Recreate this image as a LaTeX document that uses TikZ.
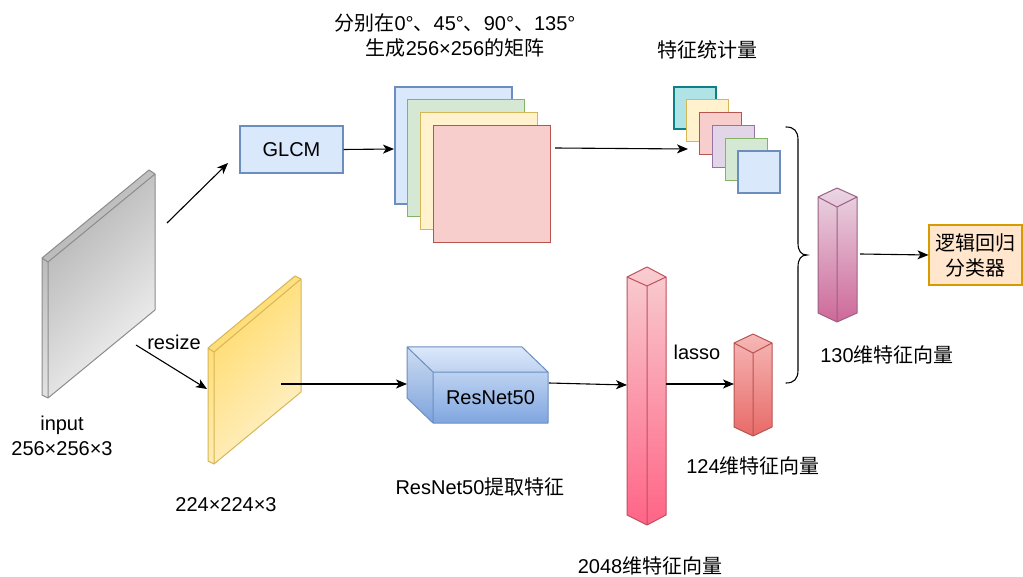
\documentclass[tikz,border=0pt]{standalone}
\usepackage{fontspec}
\setmainfont{Liberation Sans}
\newfontfamily\cjk{Noto Sans CJK SC}
\usetikzlibrary{arrows.meta}
\definecolor{bluF}{HTML}{DAE8FC}\definecolor{bluD}{HTML}{6C8EBF}
\definecolor{grnF}{HTML}{D5E8D4}\definecolor{grnD}{HTML}{82B366}
\definecolor{yelF}{HTML}{FFF2CC}\definecolor{yelD}{HTML}{D6B656}
\definecolor{redF}{HTML}{F8CECC}\definecolor{redD}{HTML}{B85450}
\definecolor{purF}{HTML}{E1D5E7}\definecolor{purD}{HTML}{9673A6}
\definecolor{tealF}{HTML}{B0E3E6}\definecolor{tealD}{HTML}{0E8088}
\definecolor{orgF}{HTML}{FFE6CC}\definecolor{orgD}{HTML}{D79B00}
\definecolor{grayA}{HTML}{B0B0B0}\definecolor{grayB}{HTML}{F4F4F4}\definecolor{grayD}{HTML}{8C8C8C}
\definecolor{goldA}{HTML}{FFD966}
\definecolor{cubeA}{HTML}{DCE8FA}\definecolor{cubeB}{HTML}{7FA6E0}
\definecolor{tallA}{HTML}{F8CDD0}\definecolor{tallB}{HTML}{FF6486}\definecolor{tallD}{HTML}{C0505E}
\definecolor{smA}{HTML}{F6B8B6}\definecolor{smB}{HTML}{E86A68}
\definecolor{puA}{HTML}{EAD6E4}\definecolor{puB}{HTML}{CE6898}\definecolor{puD}{HTML}{996185}
\begin{document}
\begin{tikzpicture}[x=1pt,y=-1pt,
  font=\fontsize{20}{25}\selectfont,
  arr/.style={-{Stealth[length=11pt,width=9pt,inset=3pt]}, line width=1.1pt},
  lbl/.style={inner sep=0pt, align=center},
  edge/.style={line width=1pt, line join=round}]
\useasboundingbox (0,0) rectangle (1023,577);
\fill[white] (0,0) rectangle (1023,577);

% ---------- input slab (gray)
\shade[top color=grayA, bottom color=grayB, shading angle=45]
  (42,258) -- (149,170) -- (155,174) -- (155,310) -- (48,398) -- (42,395) -- cycle;
\draw[edge, draw=grayD] (42,258) -- (149,170) -- (155,174) -- (155,310) -- (48,398) -- (42,395) -- cycle
  (42,258) -- (48,262) -- (155,174) (48,262) -- (48,398);
\coordinate (inOut) at (167,223);
\coordinate (inRes) at (136,345);
\node[lbl] (inLbl) at (62,436) {input\\256×256×3};

% ---------- resized slab (yellow)
\shade[top color=goldA, bottom color=yelF, shading angle=45]
  (208,348) -- (295,276) -- (301,279) -- (301,392) -- (214,464) -- (208,461) -- cycle;
\draw[edge, draw=yelD] (208,348) -- (295,276) -- (301,279) -- (301,392) -- (214,464) -- (208,461) -- cycle
  (208,348) -- (214,352) -- (301,279) (214,352) -- (214,464);
\coordinate (yIn) at (207,389);
\coordinate (yOut) at (281,384);
\node[lbl] (yLbl) at (226,505) {224×224×3};
\node[lbl] (resize) at (174,342) {resize};

% ---------- GLCM
\node[draw=bluD, fill=bluF, line width=1.1pt, minimum width=103pt, minimum height=47pt, inner sep=0pt] (glcm) at (291.5,149.5) {GLCM};
\coordinate (glIn) at (228,163);

% ---------- stack of 4 matrices
\foreach \f/\d [count=\i from 0] in {bluF/bluD, grnF/grnD, yelF/yelD, redF/redD}
  \draw[fill=\f, draw=\d, line width=1.1pt] ({395+12.7*\i},{87+12.7*\i}) rectangle +(117,117);
\coordinate (stIn) at (394,149);
\coordinate (stOut) at (555,148);
\node[lbl] (topTxt) at (455,35) {{\cjk 分别在}0°{\cjk 、}45°{\cjk 、}90°{\cjk 、}135°\\{\cjk 生成}256×256{\cjk 的矩阵}};

% ---------- statistics squares
\foreach \f/\d [count=\i from 0] in {tealF/tealD, yelF/yelD, redF/redD, purF/purD, grnF/grnD, bluF/bluD}
  \draw[fill=\f, draw=\d, line width=1.1pt] ({674+12.8*\i},{87+12.8*\i}) rectangle +(42,42);
\coordinate (sqIn) at (688,149);
\node[lbl] (sqLbl) at (707,50) {\cjk 特征统计量};

% ---------- ResNet50 cube
\shade[top color=cubeA, bottom color=cubeB]
  (407,347) -- (522,347) -- (548,372) -- (548,423) -- (433,423) -- (407,398) -- cycle;
\fill[bluD, opacity=0.12] (407,347) -- (433,372) -- (433,423) -- (407,398) -- cycle;
\draw[edge, draw=bluD] (407,347) -- (522,347) -- (548,372) -- (548,423) -- (433,423) -- (407,398) -- cycle
  (407,347) -- (433,372) -- (548,372) (433,372) -- (433,423);
\node[lbl] (resnet) at (490.5,398) {ResNet50};
\coordinate (rnIn) at (407,384);
\coordinate (rnOut) at (549,383);
\node[lbl] (rnLbl) at (480,487) {ResNet50{\cjk 提取特征}};

% ---------- tall bar 2048
\shade[top color=tallA, bottom color=tallB]
  (647,267) -- (666,277) -- (666,515) -- (647,525) -- (627,515) -- (627,277) -- cycle;
\draw[edge, draw=tallD] (647,267) -- (666,277) -- (666,515) -- (647,525) -- (627,515) -- (627,277) -- cycle
  (627,277) -- (647,286) -- (666,277) (647,286) -- (647,525);
\coordinate (tbIn) at (627,385);
\coordinate (tbOut) at (666,384);
\node[lbl] (tbLbl) at (650,566) {2048{\cjk 维特征向量}};
\node[lbl] (lasso) at (697,352) {lasso};

% ---------- small bar 124
\shade[top color=smA, bottom color=smB]
  (753,334) -- (772,343) -- (772,427) -- (753,436) -- (734,427) -- (734,343) -- cycle;
\draw[edge, draw=redD] (753,334) -- (772,343) -- (772,427) -- (753,436) -- (734,427) -- (734,343) -- cycle
  (734,343) -- (753,353) -- (772,343) (753,353) -- (753,436);
\coordinate (sbIn) at (734,384);
\node[lbl] (sbLbl) at (753,466) {124{\cjk 维特征向量}};

% ---------- brace
\draw[line width=1.1pt, line cap=round]
  (786,127) .. controls (794,127) and (798,131) .. (798,140) -- (798,243)
  .. controls (798,251) and (801,255) .. (807,255)
  .. controls (801,255) and (798,259) .. (798,267) -- (798,370)
  .. controls (798,379) and (794,383) .. (786,383);

% ---------- purple bar 130
\shade[top color=puA, bottom color=puB]
  (837,188) -- (857,197) -- (857,313) -- (837,322) -- (818,313) -- (818,197) -- cycle;
\draw[edge, draw=puD] (837,188) -- (857,197) -- (857,313) -- (837,322) -- (818,313) -- (818,197) -- cycle
  (818,197) -- (837,207) -- (857,197) (837,207) -- (837,322);
\coordinate (pbOut) at (860,254);
\node[lbl] (pbLbl) at (887,355) {130{\cjk 维特征向量}};

% ---------- classifier
\node[draw=orgD, fill=orgF, line width=1.1pt, minimum width=93pt, minimum height=60pt, inner sep=0pt, align=center,
  font=\fontsize{20}{25}\selectfont\cjk] (cls) at (975.5,255) {逻辑回归\\分类器};

% ---------- connectors
\draw[arr] (inOut) -- (glIn);
\draw[arr] (inRes) -- (yIn);
\draw[arr] (glcm.east) -- (stIn);
\draw[arr] (stOut) -- (sqIn);
\draw[arr] (yOut) -- (rnIn);
\draw[arr] (rnOut) -- (tbIn);
\draw[arr] (tbOut) -- (sbIn);
\draw[arr] (pbOut) -- (cls.west);
\end{tikzpicture}
\end{document}
